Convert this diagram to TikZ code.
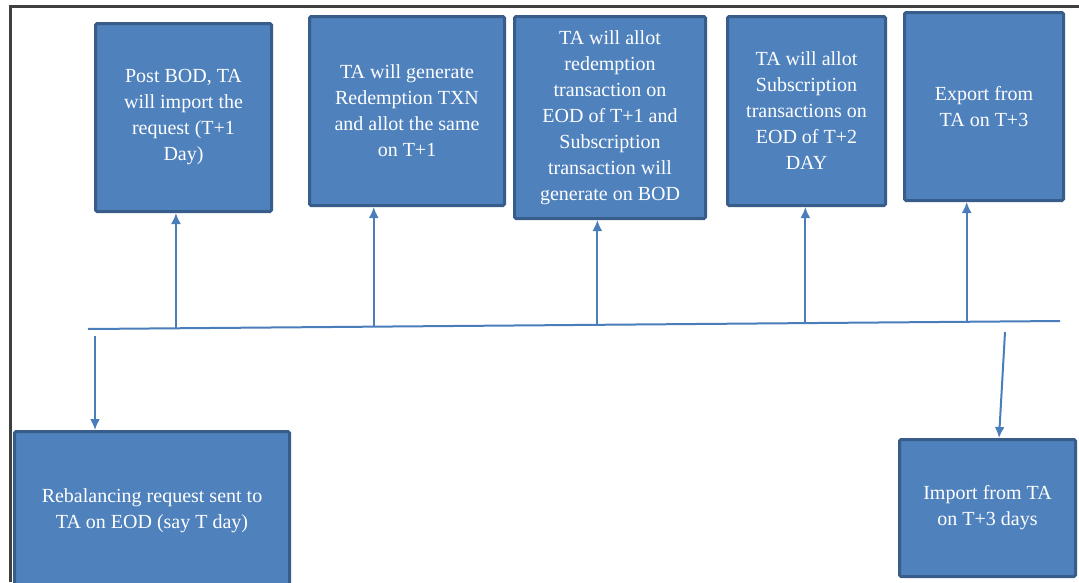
\documentclass[tikz,border=0pt]{standalone}
\usepackage{fontspec}
\setmainfont{Liberation Serif}
\usepackage{xcolor}
\usetikzlibrary{arrows.meta}
\usetikzlibrary{calc}
\definecolor{boxfill}{HTML}{4F81BD}
\definecolor{boxedge}{HTML}{385D8A}
\definecolor{arrowblue}{HTML}{4A7EBB}
\definecolor{framegray}{HTML}{404040}
\tikzset{
  tabox/.style={draw=boxedge, fill=boxfill, line width=3pt, rounded corners=1.5pt,
    text=white, align=center, inner sep=0pt,
    font=\fontsize{20pt}{26pt}\selectfont},
  flow/.style={draw=arrowblue, line width=2pt},
  flowarrow/.style={flow, -{Latex[length=11pt,width=10pt]}}
}

\begin{document}
\begin{tikzpicture}[x=1pt,y=-1pt]
\clip (0,0) rectangle (1079,582);
\draw[framegray, line width=3pt] (10,582) -- (10,6) -- (1079,6);
\node[tabox, minimum width=176pt, minimum height=188pt] (post) at (183.5,117.5)
  {Post BOD, TA\\will import the\\request (T+1\\Day)};
\node[tabox, minimum width=195pt, minimum height=189pt] (redemption) at (407,111)
  {TA will generate\\Redemption TXN\\and allot the same\\on T+1};
\node[tabox, minimum width=191pt, minimum height=202pt] (allotred) at (610,117.5)
  {TA will allot\\redemption\\transaction on\\EOD of T+1 and\\Subscription\\transaction will\\generate on BOD};
\node[tabox, minimum width=158pt, minimum height=189pt] (allotsub) at (806.5,111)
  {TA will allot\\Subscription\\transactions on\\EOD of T+2\\DAY};
\node[tabox, minimum width=159pt, minimum height=188pt] (export) at (984,106.5)
  {Export from\\TA on T+3};
\node[tabox, minimum width=275pt, minimum height=159pt] (request) at (152,511)
  {Rebalancing request sent to\\TA on EOD (say T day)};
\node[tabox, minimum width=176pt, minimum height=137pt] (import) at (987.5,508)
  {Import from TA\\on T+3 days};
\coordinate (lineL) at (88,329);
\coordinate (lineR) at (1060,321);
\draw[flow] (lineL) -- (lineR);
\coordinate (a1) at ($(lineL)!0.0905!(lineR)$);
\coordinate (a2) at ($(lineL)!0.294!(lineR)$);
\coordinate (a3) at ($(lineL)!0.524!(lineR)$);
\coordinate (a4) at ($(lineL)!0.738!(lineR)$);
\coordinate (a5) at ($(lineL)!0.904!(lineR)$);
\draw[flowarrow] (a1) -- (a1 |- post.south);
\draw[flowarrow] (a2) -- (a2 |- redemption.south);
\draw[flowarrow] (a3) -- (a3 |- allotred.south);
\draw[flowarrow] (a4) -- (a4 |- allotsub.south);
\draw[flowarrow] (a5) -- (a5 |- export.south);
\coordinate (d1) at (95,336);
\coordinate (d2) at (1005,332);
\draw[flowarrow] (d1) -- (d1 |- request.north);
\draw[flowarrow] (d2) -- ([xshift=11.5pt]import.north);
\end{tikzpicture}
\end{document}
